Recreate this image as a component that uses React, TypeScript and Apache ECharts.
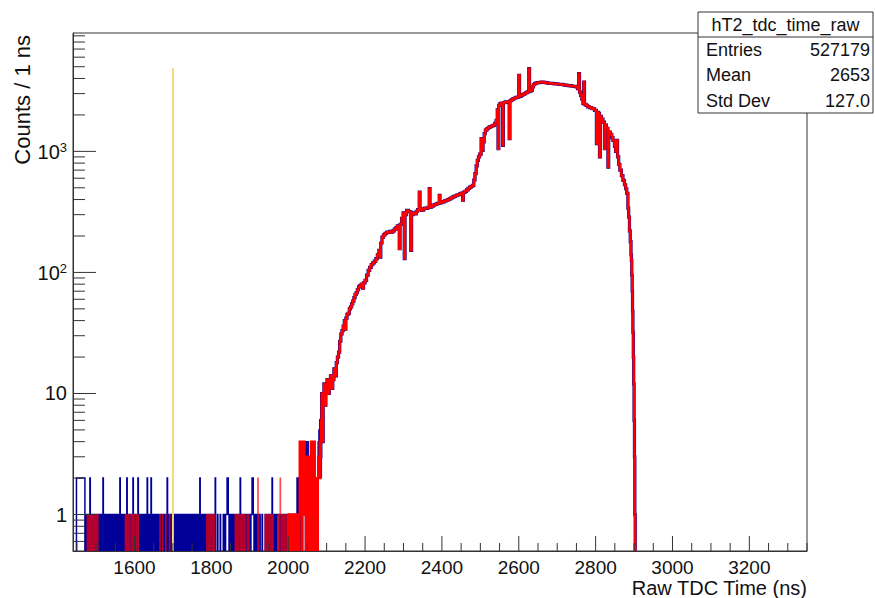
import React, { useEffect, useRef } from 'react';
import * as echarts from 'echarts';

const FONT = '"Liberation Sans", Arial, Helvetica, sans-serif';

// Axis ranges
const X_MIN = 1440;
const X_MAX = 3350;
const Y_MIN = 0.5;
const Y_MAX = 9500;

// Tick labels
const xTickLabels = [1600, 1800, 2000, 2200, 2400, 2600, 2800, 3000, 3200];
const yTickLabels = [1, 10, 100, 1000];
const yMinorTicks = [0.6, 0.7, 0.8, 0.9, 2, 3, 4, 5, 6, 7, 8, 9, 20, 30, 40, 50, 60, 70, 80, 90,
  200, 300, 400, 500, 600, 700, 800, 900, 2000, 3000, 4000, 5000, 6000, 7000, 8000, 9000];

// Low-count region, 1 ns bins: [first bin (ns), counts of consecutive bins as digits]
const blueLowRuns: [number, string][] = [
  [1440, '000000000'], [1449, '2222222222222222222222'], [1471, '011010'], [1477, '1000100210100'],
  [1490, '0100010001000100'], [1506, '110110111011'], [1518, '2'], [1519, '101110110110101110110'],
  [1540, '1011011101101011101101'], [1562, '2'], [1563, '101101110110'], [1575, '11011'], [1580, '2'],
  [1581, '101101110'], [1590, '110110'], [1596, '2'], [1597, '011011101101'], [1609, '2'],
  [1610, '11011011101101101110110'], [1633, '2'], [1634, '101101'], [1640, '110'], [1643, '2'],
  [1644, '1101101110110110111011'], [1666, '1000100010010001000'], [1685, '2'], [1686, '0100'],
  [1690, '010'], [1693, '11011011101101110110110111011011011101101101110'],
  [1740, '110110111011011011101101101110'], [1770, '2'], [1771, '11011011101101101'], [1788, '01'],
  [1790, '0100100010010001001'], [1809, '020'], [1812, '0000100000010000000'], [1831, '110110111'],
  [1840, '1212'], [1844, '110110111011011011'], [1862, '1000100010001'], [1875, '2'],
  [1876, '01000100101000'], [1890, '1101101110110111'], [1906, '212'], [1909, '110110111011011011'],
  [1927, '0000010000000'], [1940, '110110111011011011'], [1958, '2'], [1959, '101101110110111'],
  [1974, '1101011011101101'], [1990, '110110111011011'], [2005, '101101110110111011'], [2023, '2'],
  [2024, '1102101310120131'], [2040, '2131204132'], [2050, '1402131221'], [2060, '3041213140'],
  [2070, '1212102'], [2077, '2425362'],
];

const redLowRuns: [number, string][] = [
  [1477, '1000100100010'], [1490, '0010001000100010'], [1575, '010010001000100'],
  [1590, '001000100010000100010'], [1666, '100000010000000100000000'], [1690, '010'], [1788, '10'],
  [1790, '0101001010010100101'], [1861, '01000100010000100010001000100'], [1890, '0001000100000000'],
  [1921, '2'], [1922, '01'], [1940, '1010110101101011010110'], [1974, '11011'], [1979, '2'],
  [1980, '1011011010'], [1990, '001010000101001'], [2005, '1101101110111011011101101'],
  [2030, '4131420314'], [2040, '2413'], [2044, '1303120313021'], [2057, '3140241304142'],
  [2070, '1202120'], [2077, '2323242'],
];
const LOW_END = 2084;

// Main body (both histograms): [bin start (ns), counts]
const bodySteps: [number, number][] = [
  [2084, 3], [2085, 6], [2087, 10], [2089, 4], [2091, 9], [2093, 12], [2096, 8], [2098, 11],
  [2101, 13], [2104, 10], [2107, 12], [2110, 14], [2113, 11], [2116, 13], [2119, 16], [2122, 14],
  [2125, 18], [2128, 20], [2131, 22], [2134, 27], [2137, 31], [2140, 33], [2143, 36], [2146, 40],
  [2148, 34], [2150, 42], [2153, 45], [2156, 46], [2159, 50], [2162, 52], [2165, 55], [2168, 58],
  [2171, 62], [2174, 66], [2177, 68], [2180, 72], [2183, 76], [2186, 78], [2190, 80], [2194, 74],
  [2196, 82], [2200, 86], [2204, 95], [2208, 104], [2212, 110], [2216, 116], [2220, 120],
  [2224, 124], [2228, 130], [2232, 140], [2236, 152], [2239, 134], [2241, 175], [2244, 196],
  [2248, 204], [2252, 210], [2256, 215], [2260, 214], [2264, 218], [2268, 215], [2272, 220],
  [2276, 228], [2280, 234], [2284, 242], [2289, 157], [2291, 250], [2295, 280], [2299, 310],
  [2302, 130], [2304, 300], [2308, 325], [2313, 318], [2319, 152], [2321, 300], [2325, 310],
  [2329, 305], [2333, 320], [2337, 330], [2341, 461], [2343, 330], [2347, 325], [2351, 335],
  [2355, 340], [2359, 338], [2363, 345], [2367, 492], [2369, 346], [2373, 352], [2377, 360],
  [2381, 364], [2385, 368], [2389, 372], [2393, 433], [2395, 376], [2399, 380], [2403, 385],
  [2407, 390], [2411, 393], [2415, 400], [2419, 405], [2423, 412], [2427, 419], [2431, 425],
  [2435, 430], [2439, 436], [2443, 440], [2447, 447], [2451, 452], [2454, 395], [2456, 458],
  [2460, 468], [2464, 480], [2468, 495], [2472, 507], [2476, 515], [2480, 524], [2483, 580],
  [2486, 654], [2489, 760], [2492, 843], [2495, 900], [2498, 950], [2502, 1274], [2504, 1020],
  [2507, 1200], [2510, 1400], [2513, 1500], [2517, 1540], [2521, 1580], [2525, 1600], [2529, 1620],
  [2533, 1640], [2537, 1700], [2541, 1805], [2544, 2200], [2546, 1052], [2548, 2400], [2551, 2480],
  [2554, 2500], [2558, 1120], [2560, 2520], [2564, 2550], [2567, 2570], [2575, 1274], [2577, 2620],
  [2581, 2680], [2585, 2725], [2589, 2760], [2593, 2790], [2597, 2810], [2600, 4250], [2602, 2850],
  [2606, 2900], [2610, 2950], [2614, 3000], [2618, 3050], [2622, 3100], [2626, 4820], [2628, 3150],
  [2632, 3190], [2635, 3400], [2638, 3550], [2641, 3625], [2645, 3680], [2649, 3700], [2654, 3720],
  [2659, 3740], [2664, 3720], [2669, 3690], [2674, 3660], [2679, 3650], [2684, 3640], [2689, 3625],
  [2694, 3610], [2699, 3600], [2704, 3580], [2709, 3570], [2714, 3550], [2719, 3530], [2724, 3510],
  [2729, 3490], [2734, 3470], [2739, 3450], [2744, 3440], [2749, 3400], [2753, 3300], [2756, 4390],
  [2758, 3090], [2761, 2900], [2764, 2700], [2767, 2480], [2769, 3740], [2771, 2450], [2775, 2400],
  [2779, 2330], [2784, 2300], [2789, 2270], [2793, 2250], [2797, 2180], [2802, 1158], [2804, 2100],
  [2808, 2050], [2810, 898], [2812, 1950], [2815, 1850], [2819, 1745], [2823, 1052], [2825, 1650],
  [2828, 1550], [2832, 742], [2834, 1445], [2838, 1380], [2842, 1300], [2845, 1233], [2849, 1100],
  [2852, 1000], [2855, 1233], [2857, 900], [2860, 780], [2863, 700], [2867, 630], [2871, 575],
  [2875, 530], [2878, 491], [2881, 450], [2884, 340], [2886, 286], [2888, 220], [2890, 180],
  [2892, 140], [2893, 126], [2894, 95], [2895, 70], [2896, 48], [2897, 32], [2898, 20], [2899, 12],
  [2900, 6], [2901, 3], [2902, 1], [2903, 0],
];

// Vertical cut line
const cutLineX = 1700;
const cutLineTop = 4850;

// Stats box
const statsTitle = 'hT2_tdc_time_raw';
const statsNames = ['Entries', 'Mean', 'Std Dev'];
const statsValues = ['527179', '2653', '127.0'];

const xTitle = 'Raw TDC Time (ns)';
const yTitle = 'Counts / 1 ns';

function buildSteps(lowRuns: [number, string][]): [number, number][] {
  const counts = new Map<number, number>();
  for (const [start, digits] of lowRuns) {
    for (let i = 0; i < digits.length; i++) counts.set(start + i, Number(digits[i]));
  }
  const steps: [number, number][] = [];
  for (let x = X_MIN; x < LOW_END; x++) steps.push([x, counts.get(x) ?? 0]);
  for (const s of bodySteps) steps.push(s);
  return steps;
}

const blueSteps = buildSteps(blueLowRuns);
const redSteps = buildSteps(redLowRuns);

// Draws the ROOT-style outline of the bins whose start lies in [xFrom, xTo)
function histRenderer(steps: [number, number][], xFrom: number, xTo: number, color: string, width: number, opacity = 1) {
  return (_params: any, api: any) => {
    const yb = api.coord([X_MIN, Y_MIN])[1];
    const yOf = (c: number) => (c > 0 ? api.coord([X_MIN, c])[1] : yb + 4);
    const pts: number[][] = [];
    let prev = 0;
    for (let i = 0; i < steps.length; i++) {
      const [x, c] = steps[i];
      if (x < xFrom) { prev = c; continue; }
      if (x >= xTo) break;
      const xEnd = i + 1 < steps.length ? steps[i + 1][0] : x + 1;
      const px0 = api.coord([x, Y_MIN])[0];
      const px1 = api.coord([xEnd, Y_MIN])[0];
      pts.push([px0, yOf(prev)], [px0, yOf(c)], [px1, yOf(c)]);
      prev = c;
    }
    return {
      type: 'polyline',
      shape: { points: pts },
      style: { stroke: color, lineWidth: width, fill: null, opacity },
      silent: true,
    };
  };
}

const xMinorTicks: number[] = [];
for (let v = 1450; v <= X_MAX; v += 50) if (xTickLabels.indexOf(v) < 0) xMinorTicks.push(v);

function ticksRenderer(_params: any, api: any) {
  const children: any[] = [];
  const [xl, yb] = api.coord([X_MIN, Y_MIN]);
  const line = (x1: number, y1: number, x2: number, y2: number) =>
    children.push({ type: 'line', shape: { x1, y1, x2, y2 }, style: { stroke: '#333', lineWidth: 1 } });
  for (const v of xTickLabels) { const p = api.coord([v, Y_MIN])[0]; line(p, yb, p, yb - 15); }
  for (const v of xMinorTicks) { const p = api.coord([v, Y_MIN])[0]; line(p, yb, p, yb - 8); }
  for (const v of yTickLabels) { const p = api.coord([X_MIN, v])[1]; line(xl, p, xl + 23, p); }
  for (const v of yMinorTicks) { const p = api.coord([X_MIN, v])[1]; line(xl, p, xl + 12, p); }
  return { type: 'group', children, silent: true };
}

function cutRenderer(_params: any, api: any) {
  const a = api.coord([cutLineX, Y_MIN]);
  const b = api.coord([cutLineX, cutLineTop]);
  return {
    type: 'line',
    shape: { x1: a[0], y1: a[1], x2: b[0], y2: b[1] },
    style: { stroke: '#f3d978', lineWidth: 2 },
    silent: true,
  };
}

function yLabel(v: number) {
  const e = Math.round(Math.log10(v));
  if (e >= 2) return `{b|10}{s|${e}}`;
  return `{b|${Math.round(v)}}`;
}

function customSeries(renderItem: any, z: number, clip = true) {
  return { type: 'custom', coordinateSystem: 'cartesian2d', data: [[X_MIN, 1]], clip, z, silent: true, renderItem };
}

export default function App() {
  const ref = useRef<HTMLDivElement>(null);
  useEffect(() => {
    const chart = echarts.init(ref.current!, undefined, { renderer: 'svg' });
    const rowY = [49.5, 75, 100.5];
    const END = 4000;
    chart.setOption({
      animation: false,
      backgroundColor: '#ffffff',
      grid: {
        left: 73, right: 68, top: 33, bottom: 47, show: true,
        borderColor: '#333', borderWidth: 1, backgroundColor: 'transparent',
        outerBoundsMode: 'none',
      },
      xAxis: {
        type: 'value', min: X_MIN, max: X_MAX,
        splitLine: { show: false },
        axisLine: { show: true, lineStyle: { color: '#333', width: 1 } },
        axisTick: { show: false },
        axisLabel: {
          customValues: xTickLabels, fontSize: 19, color: '#111', fontFamily: FONT, margin: 7,
          formatter: (v: number) => String(v),
        },
      },
      yAxis: {
        type: 'log', logBase: 10, min: Y_MIN, max: Y_MAX,
        splitLine: { show: false },
        minorTick: { show: false },
        axisLine: { show: true, lineStyle: { color: '#333', width: 1 } },
        axisTick: { show: false },
        axisLabel: {
          customValues: yTickLabels,
          formatter: yLabel,
          margin: 6,
          rich: {
            b: { fontSize: 20, fontFamily: FONT, color: '#111', verticalAlign: 'bottom' },
            s: { fontSize: 13, fontFamily: FONT, color: '#111', verticalAlign: 'bottom', padding: [0, 0, 8, 0] },
          },
        },
      },
      series: [
        customSeries(histRenderer(blueSteps, X_MIN, LOW_END, '#000099', 1.5), 2),
        customSeries(histRenderer(blueSteps, LOW_END, END, '#000099', 3.2), 2),
        customSeries(histRenderer(redSteps, X_MIN, 2000, '#ff0000', 1.3, 0.7), 3),
        customSeries(histRenderer(redSteps, 2000, END, '#ff0000', 2.4), 3),
        customSeries(cutRenderer, 4),
        customSeries(ticksRenderer, 5, false),
      ],
      graphic: [
        { type: 'text', x: 807, y: 588, z: 50,
          style: { text: xTitle, fontSize: 20, fontFamily: FONT, fill: '#111', align: 'right', verticalAlign: 'middle', textAlign: 'right', textVerticalAlign: 'middle' } },
        { type: 'text', x: 22, y: 35, rotation: Math.PI / 2, z: 50,
          style: { text: yTitle, fontSize: 22, fontFamily: FONT, fill: '#111', align: 'right', verticalAlign: 'middle', textAlign: 'right', textVerticalAlign: 'middle' } },
        { type: 'rect', z: 60, shape: { x: 698, y: 12, width: 175, height: 101 },
          style: { fill: '#ffffff', stroke: '#333', lineWidth: 1 } },
        { type: 'line', z: 61, shape: { x1: 698, y1: 37, x2: 873, y2: 37 }, style: { stroke: '#333', lineWidth: 1 } },
        { type: 'text', z: 62, x: 785.5, y: 25,
          style: { text: statsTitle, fontSize: 18, fontFamily: FONT, fill: '#111', align: 'center', verticalAlign: 'middle', textAlign: 'center', textVerticalAlign: 'middle' } },
        ...statsNames.map((n, i) => ({ type: 'text', z: 62, x: 706, y: rowY[i],
          style: { text: n, fontSize: 18, fontFamily: FONT, fill: '#111', align: 'left', verticalAlign: 'middle', textAlign: 'left', textVerticalAlign: 'middle' } })),
        ...statsValues.map((v, i) => ({ type: 'text', z: 62, x: 870, y: rowY[i],
          style: { text: v, fontSize: 18, fontFamily: FONT, fill: '#111', align: 'right', verticalAlign: 'middle', textAlign: 'right', textVerticalAlign: 'middle' } })),
      ],
    });
    return () => chart.dispose();
  }, []);
  return (
    <div
      ref={ref}
      style={{ position: 'fixed', left: 0, top: 0, width: 875, height: 598, background: '#fff' }}
    />
  );
}
